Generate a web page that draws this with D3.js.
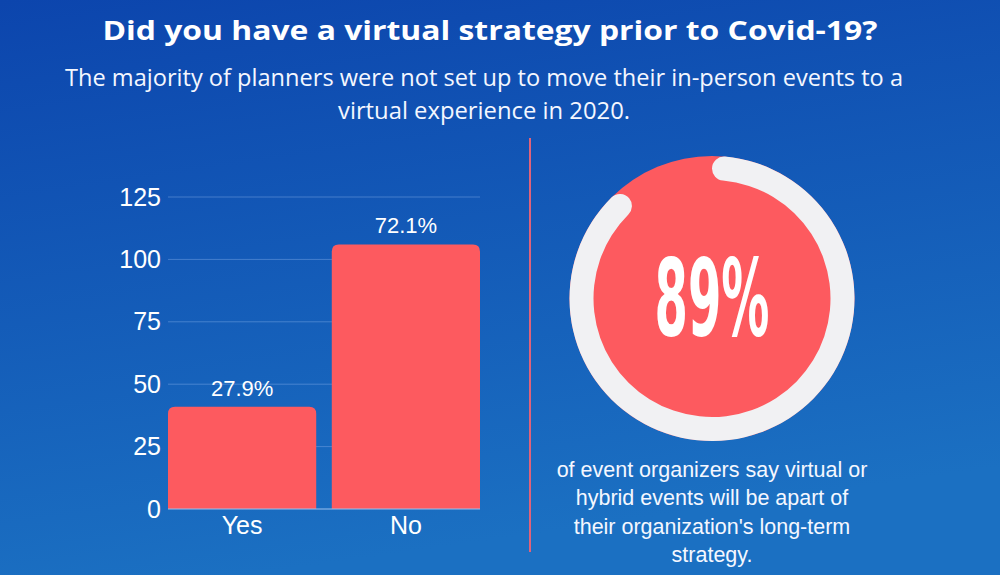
<!DOCTYPE html>
<html>
<head>
<meta charset="utf-8">
<script src="https://cdn.jsdelivr.net/npm/d3@7"></script>
<style>
  html, body { margin: 0; padding: 0; background: #1258b6; }
  svg { display: block; }
</style>
</head>
<body>
<svg id="chart" width="1000" height="575"></svg>
<script>
// ---- data ----
const categories = ["Yes", "No"];
const values = [41, 106];
const valueLabels = ["27.9%", "72.1%"];
const yTicks = [0, 25, 50, 75, 100, 125];
const donutPercent = 89;
const donutLabel = "89%";
const titleText = "Did you have a virtual strategy prior to Covid-19?";
const subtitleLines = [
  "The majority of planners were not set up to move their in-person events to a",
  "virtual experience in 2020."
];
const noteLines = [
  "of event organizers say virtual or",
  "hybrid events will be apart of",
  "their organization's long-term",
  "strategy."
];

// ---- setup ----
const svg = d3.select("#chart");
const W = 1000, H = 575;
const RED = "#fd5a5f";

const defs = svg.append("defs");
const grad = defs.append("linearGradient").attr("id", "bg")
  .attr("x1", "0").attr("y1", "0").attr("x2", "0.25").attr("y2", "1");
grad.append("stop").attr("offset", "0%").attr("stop-color", "#0c45ad");
grad.append("stop").attr("offset", "100%").attr("stop-color", "#1b70c2");
svg.append("rect").attr("width", W).attr("height", H).attr("fill", "url(#bg)");

// ---- title & subtitle ----
svg.append("text")
  .attr("x", 490).attr("y", 40)
  .attr("text-anchor", "middle")
  .attr("font-family", "'Open Sans', sans-serif")
  .attr("font-weight", 700)
  .attr("font-size", 27.5)
  .attr("fill", "#ffffff")
  .attr("textLength", 775).attr("lengthAdjust", "spacingAndGlyphs")
  .text(titleText);

const subWidths = [838, 292];
subtitleLines.forEach((line, i) => {
  svg.append("text")
    .attr("x", 484).attr("y", 86 + i * 33)
    .attr("text-anchor", "middle")
    .attr("font-family", "'Open Sans', sans-serif")
    .attr("font-size", 24)
    .attr("fill", "#f4f7ff")
    .attr("textLength", subWidths[i]).attr("lengthAdjust", "spacingAndGlyphs")
    .text(line);
});

// ---- divider ----
svg.append("line")
  .attr("x1", 530).attr("x2", 530).attr("y1", 138).attr("y2", 552)
  .attr("stroke", "#e0637a").attr("stroke-width", 2);

// ---- bar chart ----
const plot = { left: 168, right: 480, top: 197, bottom: 509 };
const x = d3.scaleBand().domain(categories)
  .range([plot.left, plot.right]).paddingInner(0.095).paddingOuter(0);
const y = d3.scaleLinear().domain([0, 125]).range([plot.bottom, plot.top]);

const g = svg.append("g");

// gridlines
g.selectAll("line.grid").data(yTicks.filter(d => d > 0)).join("line")
  .attr("class", "grid")
  .attr("x1", plot.left).attr("x2", plot.right)
  .attr("y1", d => y(d)).attr("y2", d => y(d))
  .attr("stroke", "#6f9fe0").attr("stroke-opacity", 0.55).attr("stroke-width", 1);

// y axis labels
const yAxis = d3.axisLeft(y).tickValues(yTicks).tickSize(0).tickPadding(7);
const ya = g.append("g").attr("transform", `translate(${plot.left},0)`).call(yAxis);
ya.select(".domain").remove();
ya.selectAll("text")
  .attr("font-family", "'Liberation Sans', Arial, sans-serif")
  .attr("font-size", 25)
  .attr("fill", "#ffffff");

// bars with rounded top corners
const r = 7;
function barPath(x0, w, yTop, yBot) {
  return `M${x0},${yBot}V${yTop + r}Q${x0},${yTop} ${x0 + r},${yTop}` +
    `H${x0 + w - r}Q${x0 + w},${yTop} ${x0 + w},${yTop + r}V${yBot}Z`;
}
g.selectAll("path.bar").data(values).join("path")
  .attr("class", "bar")
  .attr("d", (d, i) => barPath(x(categories[i]), x.bandwidth(), y(d), y(0)))
  .attr("fill", RED);

// baseline
g.append("line")
  .attr("x1", plot.left).attr("x2", plot.right)
  .attr("y1", y(0)).attr("y2", y(0))
  .attr("stroke", "#9cc0ee").attr("stroke-width", 1.2);

// value labels
g.selectAll("text.val").data(values).join("text")
  .attr("class", "val")
  .attr("x", (d, i) => x(categories[i]) + x.bandwidth() / 2)
  .attr("y", d => y(d) - 11)
  .attr("text-anchor", "middle")
  .attr("font-family", "'Liberation Sans', Arial, sans-serif")
  .attr("font-size", 22)
  .attr("fill", "#ffffff")
  .text((d, i) => valueLabels[i]);

// x axis labels
const xAxis = d3.axisBottom(x).tickSize(0).tickPadding(7);
const xa = g.append("g").attr("transform", `translate(0,${plot.bottom})`).call(xAxis);
xa.select(".domain").remove();
xa.selectAll("text")
  .attr("font-family", "'Liberation Sans', Arial, sans-serif")
  .attr("font-size", 25)
  .attr("fill", "#ffffff");

// ---- donut ----
const cx = 712, cy = 298.5, R = 142.5, ring = 24;
const dg = svg.append("g").attr("transform", `translate(${cx},${cy})`);
dg.append("circle").attr("r", R).attr("fill", RED);
const arc = d3.arc().innerRadius(R - ring).outerRadius(R).cornerRadius(ring / 2);
const angle = d3.scaleLinear().domain([0, 100]).range([0, 2 * Math.PI]);
dg.append("path")
  .attr("d", arc({ startAngle: angle(0), endAngle: angle(donutPercent) }))
  .attr("fill", "#f1f1f3");
dg.append("text")
  .attr("x", 0).attr("y", 36)
  .attr("text-anchor", "middle")
  .attr("font-family", "'Liberation Sans Narrow', 'DejaVu Sans Condensed', sans-serif")
  .attr("font-weight", 700)
  .attr("font-size", 107)
  .attr("fill", "#ffffff")
  .attr("textLength", 115).attr("lengthAdjust", "spacingAndGlyphs")
  .text(donutLabel);

// ---- note text ----
noteLines.forEach((line, i) => {
  svg.append("text")
    .attr("x", 712).attr("y", 477 + i * 28.3)
    .attr("text-anchor", "middle")
    .attr("font-family", "'Liberation Sans', Arial, sans-serif")
    .attr("font-size", 21.5)
    .attr("fill", "#f4f7ff")
    .text(line);
});
</script>
</body>
</html>
